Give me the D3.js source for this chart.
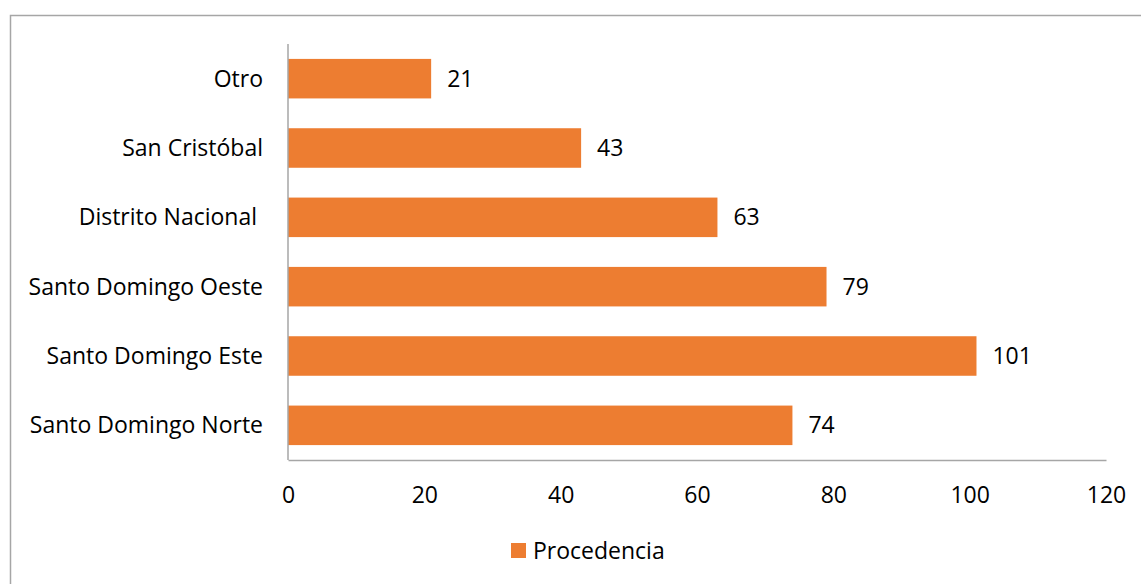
<!DOCTYPE html>
<html>
<head>
<meta charset="utf-8">
<script src="https://cdn.jsdelivr.net/npm/d3@7"></script>
<style>
  body { margin: 0; background: #fff; }
  svg { font-family: "Open Sans", "Lato", sans-serif; }
</style>
</head>
<body>
<div id="chart"></div>
<script>
const categories = ['Otro', 'San Cristóbal', 'Distrito Nacional ', 'Santo Domingo Oeste', 'Santo Domingo Este', 'Santo Domingo Norte'];
const values = [21, 43, 63, 79, 101, 74];
const ticks = [0, 20, 40, 60, 80, 100, 120];
const seriesName = 'Procedencia';

const W = 1141, H = 584;
const FS = 23;
const margin = {top: 44, left: 288, right: W - 1106, bottom: H - 460};

const svg = d3.select('#chart').append('svg')
  .attr('width', W)
  .attr('height', H);

// outer frame
svg.append('rect')
  .attr('x', 10.5).attr('y', 15.5)
  .attr('width', W + 10).attr('height', H + 10)
  .attr('fill', 'none')
  .attr('stroke', '#a6a6a6')
  .attr('stroke-width', 1.5);

var x = d3.scaleLinear()
  .domain([0, 120])
  .range([margin.left, W - margin.right]);

var y = d3.scaleBand()
  .domain(categories)
  .range([margin.top, H - margin.bottom])
  .paddingInner(0.43)
  .paddingOuter(0.215);

var data = categories.map((c, i) => ({cat: c, val: values[i]}));

svg.selectAll('rect.bar')
  .data(data)
  .enter()
  .append('rect')
  .attr('class', 'bar')
  .attr('x', x(0))
  .attr('y', d => y(d.cat))
  .attr('width', d => x(d.val) - x(0))
  .attr('height', y.bandwidth())
  .attr('fill', '#ED7D31');

// value labels
svg.selectAll('text.val')
  .data(data)
  .enter()
  .append('text')
  .attr('class', 'val')
  .attr('x', d => x(d.val) + 16)
  .attr('y', d => y(d.cat) + y.bandwidth() / 2)
  .attr('dy', '.35em')
  .attr('font-size', FS)
  .attr('fill', '#000')
  .text(d => d.val);

// category labels
svg.selectAll('text.cat')
  .data(data)
  .enter()
  .append('text')
  .attr('class', 'cat')
  .attr('x', 263)
  .attr('y', d => y(d.cat) + y.bandwidth() / 2)
  .attr('dy', '.35em')
  .attr('text-anchor', 'end')
  .attr('font-size', FS)
  .attr('fill', '#000')
  .style('white-space', 'pre')
  .text(d => d.cat);

// axes lines
var xAxis = d3.axisBottom(x).tickValues(ticks).tickSize(0).tickPadding(27);
var gx = svg.append('g')
  .attr('transform', `translate(0,${H - margin.bottom})`)
  .call(xAxis);
gx.select('.domain').attr('stroke', '#a6a6a6').attr('stroke-width', 1.5);
gx.selectAll('text')
  .attr('font-size', FS)
  .attr('font-family', '"Open Sans", "Lato", sans-serif')
  .attr('fill', '#000');

svg.append('line')
  .attr('x1', x(0)).attr('x2', x(0))
  .attr('y1', margin.top).attr('y2', H - margin.bottom)
  .attr('stroke', '#a6a6a6')
  .attr('stroke-width', 1.5);

// legend
var lg = svg.append('g').attr('transform', 'translate(511,543)');
lg.append('rect')
  .attr('width', 15).attr('height', 15)
  .attr('fill', '#ED7D31');
lg.append('text')
  .attr('x', 22).attr('y', 7.5)
  .attr('dy', '.35em')
  .attr('font-size', FS)
  .attr('fill', '#000')
  .text(seriesName);
</script>
</body>
</html>
